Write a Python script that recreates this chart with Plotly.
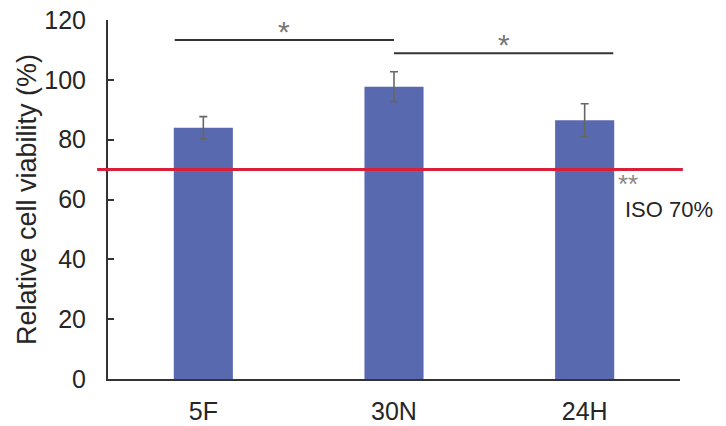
import plotly.graph_objects as go

categories = ["5F", "30N", "24H"]
viability = [84.0, 97.7, 86.5]
errors = [3.7, 5.0, 5.5]
y_ticks = [0, 20, 40, 60, 80, 100, 120]
iso_threshold = 70
# significance brackets: (x start, x end in category index units, y level, label)
sig_x0 = [-0.15, 1.0]
sig_x1 = [1.0, 2.15]
sig_y = [113.3, 108.9]
sig_labels = ["*", "*"]

FONT = "Liberation Sans, Arial, sans-serif"
TXT = "#262626"

fig = go.Figure()
fig.add_trace(go.Bar(
    x=categories, y=viability,
    marker=dict(color="#5969b0", line=dict(width=0)),
    error_y=dict(type="data", array=errors, visible=True, color="#666666",
                 thickness=1.6, width=4),
    showlegend=False, hoverinfo="skip",
))

shapes = []
# ISO threshold line
shapes.append(dict(type="line", xref="paper", yref="y", x0=-0.019, x1=1.005,
                   y0=iso_threshold, y1=iso_threshold,
                   line=dict(color="#d8203a", width=3)))
annotations = []
for x0, x1, y, lab in zip(sig_x0, sig_x1, sig_y, sig_labels):
    shapes.append(dict(type="line", xref="x", yref="y", x0=x0, x1=x1, y0=y, y1=y,
                       line=dict(color="#333333", width=2)))
    annotations.append(dict(x=(x0 + x1) / 2, y=y, xref="x", yref="y", text=lab,
                            showarrow=False, yanchor="middle", yshift=9,
                            font=dict(family=FONT, size=30, color="#777777")))

annotations.append(dict(x=1.0, y=iso_threshold, xref="paper", yref="y",
                        text="**", showarrow=False, xanchor="left", yanchor="middle",
                        xshift=-64, yshift=-14,
                        font=dict(family=FONT, size=26, color="#888888")))
annotations.append(dict(x=1.0, y=iso_threshold, xref="paper", yref="y",
                        text="ISO 70%", showarrow=False, xanchor="left", yanchor="middle",
                        xshift=-57, yshift=-40,
                        font=dict(family=FONT, size=22, color=TXT)))

fig.update_layout(
    width=726, height=426,
    margin=dict(l=108, r=46, t=20, b=47),
    plot_bgcolor="white", paper_bgcolor="white",
    bargap=0.69,
    font=dict(family=FONT, color=TXT),
    shapes=shapes, annotations=annotations,
    xaxis=dict(showline=True, linecolor="#333333", linewidth=2, ticks="",
               tickfont=dict(size=25, color=TXT), showgrid=False,
               ticklabelstandoff=9, automargin=False),
    yaxis=dict(range=[0, 120], tickvals=y_ticks, showline=True, linecolor="#333333",
               linewidth=2, ticks="inside", ticklen=6, tickwidth=2, tickcolor="#333333",
               showgrid=False, zeroline=False, automargin=False,
               ticklabelstandoff=15,
               tickfont=dict(size=25, color=TXT),
               title=dict(text="Relative cell viability (%)", standoff=0,
                          font=dict(size=27, color=TXT))),
)

fig.write_html("out.html", config={"displayModeBar": False},
               post_script="document.body.style.margin='0';document.body.style.overflow='hidden';")
